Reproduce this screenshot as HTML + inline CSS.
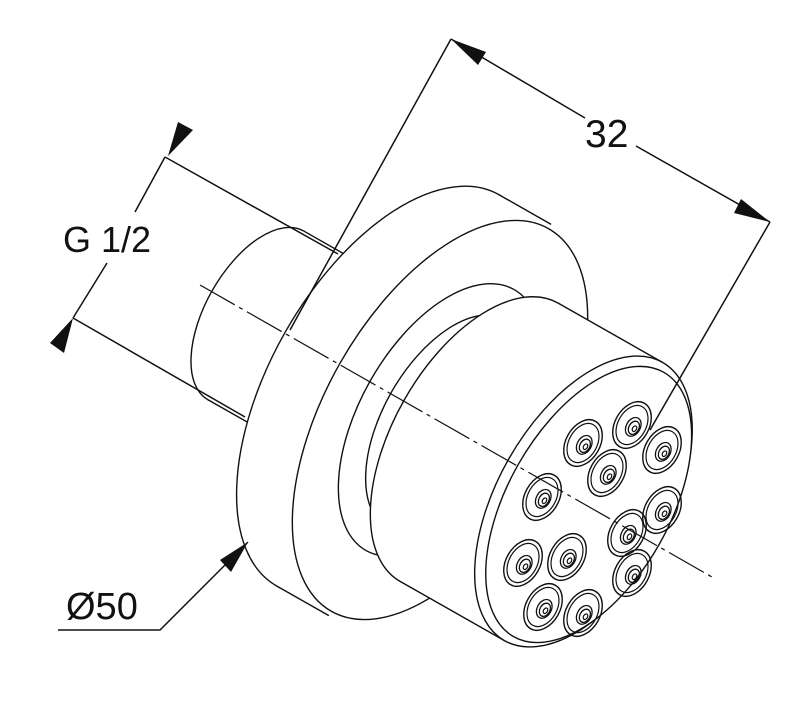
<!DOCTYPE html>
<html><head><meta charset="utf-8"><style>html,body{margin:0;padding:0;background:#fff;width:800px;height:703px;overflow:hidden}svg{display:block}</style></head>
<body>
<svg width="800" height="703" viewBox="0 0 800 703" xmlns="http://www.w3.org/2000/svg">
<g stroke="#111" stroke-width="1.4" fill="#fff">
<g transform="translate(440,420) rotate(29.6)">
  <ellipse cx="-212" cy="0" rx="50" ry="97"/>
  <rect x="-212" y="-97" width="160" height="194" stroke="none"/>
  <line x1="-212" y1="-97" x2="-52" y2="-97"/><line x1="-212" y1="97" x2="-52" y2="97"/>
  <ellipse cx="-60" cy="0" rx="118" ry="225"/>
  <rect x="-60" y="-225" width="60" height="450" stroke="none"/>
  <line x1="-60" y1="-225" x2="0" y2="-225"/><line x1="-60" y1="225" x2="0" y2="225"/>
  <ellipse cx="0" cy="0" rx="115" ry="220"/>
  <ellipse cx="0" cy="0" rx="80" ry="150"/>
  <ellipse cx="8" cy="0" rx="64" ry="120"/>
  <ellipse cx="12" cy="0" rx="45" ry="85"/>
  <rect x="12" y="-85" width="28" height="170" stroke="none"/>
  <line x1="12" y1="-85" x2="40" y2="-85"/><line x1="12" y1="85" x2="40" y2="85"/>
  <ellipse cx="18" cy="0" rx="41" ry="78" fill="none"/>
  <ellipse cx="45" cy="0" rx="86" ry="160"/>
  <rect x="45" y="-160" width="120" height="320" stroke="none"/>
  <line x1="45" y1="-160" x2="165" y2="-160"/><line x1="45" y1="160" x2="165" y2="160"/>
  <ellipse cx="165" cy="0" rx="86" ry="160"/>
  <ellipse cx="171" cy="0" rx="81" ry="152"/>
</g>
</g>
<defs>
<g id="nz" stroke="#111" fill="none">
  <ellipse rx="17" ry="25" stroke-width="1.4"/>
  <ellipse rx="14" ry="21" stroke-width="1.2"/>
  <ellipse cx="2" cy="1" rx="7" ry="10" stroke-width="1.3"/>
  <ellipse cx="3" cy="1.5" rx="5" ry="7" stroke-width="1.3"/>
  <ellipse cx="4" cy="2" rx="2" ry="3" stroke-width="1.2"/>
</g>
</defs>
<g>
<use href="#nz" transform="translate(632,425) rotate(29.6)"/>
<use href="#nz" transform="translate(583,443) rotate(29.6)"/>
<use href="#nz" transform="translate(662,450) rotate(29.6)"/>
<use href="#nz" transform="translate(607,473) rotate(29.6)"/>
<use href="#nz" transform="translate(542,497) rotate(29.6)"/>
<use href="#nz" transform="translate(662,510) rotate(29.6)"/>
<use href="#nz" transform="translate(627,533) rotate(29.6)"/>
<use href="#nz" transform="translate(523,563) rotate(29.6)"/>
<use href="#nz" transform="translate(567,557) rotate(29.6)"/>
<use href="#nz" transform="translate(632,573) rotate(29.6)"/>
<use href="#nz" transform="translate(543,607) rotate(29.6)"/>
<use href="#nz" transform="translate(583,613) rotate(29.6)"/>
</g>
<line x1="200" y1="285" x2="712" y2="577" stroke="#111" stroke-width="1.2" stroke-dasharray="40 5 4 5"/>
<g stroke="#111" stroke-width="1.5" fill="none">
  <line x1="165" y1="157" x2="338" y2="254"/>
  <line x1="73" y1="318" x2="245" y2="417"/>
  <line x1="165" y1="157" x2="135" y2="212"/>
  <line x1="107" y1="263" x2="73" y2="318"/>
  <line x1="451" y1="39" x2="290" y2="330"/>
  <line x1="451" y1="39" x2="585" y2="118"/>
  <line x1="636" y1="146" x2="770" y2="222"/>
  <line x1="770" y1="222" x2="650" y2="430"/>
  <polyline points="58,630 160,630 248,542"/>
</g>
<g fill="#111">
  <polygon points="178,122 193,130 168,156"/>
  <polygon points="73,318 50,343 64,353"/>
  <polygon points="451,39 486,52 478,65"/>
  <polygon points="770,222 741,199 734,213"/>
  <polygon points="248,542 220,560 231,572"/>
</g>
<g font-family="Liberation Sans, DejaVu Sans, sans-serif" fill="#111">
  <text x="63" y="252" font-size="36">G 1/2</text>
  <text x="585" y="147" font-size="39">32</text>
  <text x="66" y="619" font-size="38">Ø50</text>
</g>
</svg>
</body></html>
